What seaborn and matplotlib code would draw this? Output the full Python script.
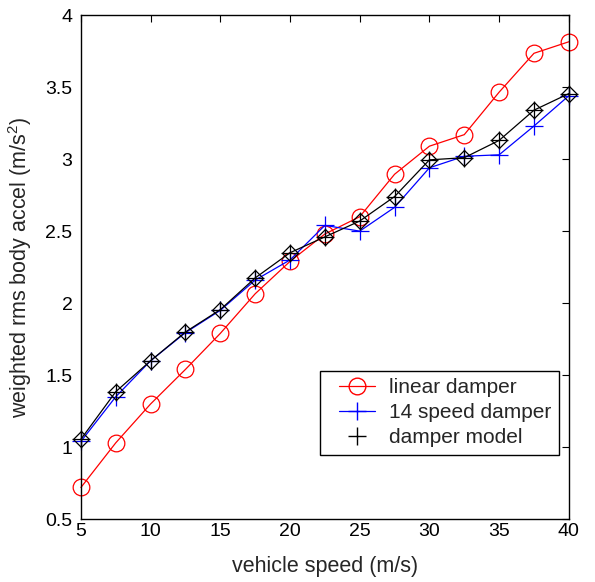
import matplotlib
matplotlib.use("Agg")
import matplotlib.pyplot as plt
import seaborn as sns
import pandas as pd
from matplotlib.lines import Line2D
from matplotlib.legend_handler import HandlerLine2D

speed = [5, 7.5, 10, 12.5, 15, 17.5, 20, 22.5, 25, 27.5, 30, 32.5, 35, 37.5, 40]
linear_damper = [0.72, 1.03, 1.30, 1.54, 1.79, 2.065, 2.29, 2.48, 2.60, 2.895, 3.09, 3.17, 3.465, 3.735, 3.815]
speed14_damper = [1.04, 1.35, 1.60, 1.795, 1.95, 2.16, 2.30, 2.54, 2.50, 2.665, 2.94, 3.02, 3.03, 3.23, 3.44]
damper_model = [1.055, 1.385, 1.60, 1.80, 1.955, 2.175, 2.35, 2.46, 2.57, 2.74, 2.995, 3.01, 3.13, 3.34, 3.455]

xticks = [5, 10, 15, 20, 25, 30, 35, 40]
yticks = [0.5, 1, 1.5, 2, 2.5, 3, 3.5, 4]
ytick_labels = ["0.5", "1", "1.5", "2", "2.5", "3", "3.5", "4"]

sns.set_style("white")
plt.rcParams["font.family"] = ["Liberation Sans", "DejaVu Sans"]
plt.rcParams["mathtext.fontset"] = "custom"
plt.rcParams["mathtext.rm"] = "Liberation Sans"
plt.rcParams["mathtext.it"] = "Liberation Sans"
plt.rcParams["mathtext.default"] = "regular"

df = pd.DataFrame({"speed": speed, "linear": linear_damper,
                   "s14": speed14_damper, "model": damper_model})

fig = plt.figure(figsize=(5.95, 5.82), dpi=100)
ax = fig.add_axes([0.136, 0.108, 0.820, 0.866])

sns.lineplot(data=df, x="speed", y="linear", ax=ax, color="red", lw=0.9,
             marker="o", markersize=12, markerfacecolor="none",
             markeredgecolor="red", markeredgewidth=0.9, clip_on=False)
sns.lineplot(data=df, x="speed", y="s14", ax=ax, color="blue", lw=0.9,
             marker="+", markersize=13, markeredgecolor="blue",
             markeredgewidth=0.9, clip_on=False)
sns.lineplot(data=df, x="speed", y="model", ax=ax, color="black", lw=0.9,
             marker="D", markersize=8.5, markerfacecolor="none",
             markeredgecolor="black", markeredgewidth=0.9, clip_on=False)
sns.lineplot(data=df, x="speed", y="model", ax=ax, color="black", lw=0,
             marker="+", markersize=13, markeredgecolor="black",
             markeredgewidth=0.9, clip_on=False)

ax.set_xlim(5, 40)
ax.set_ylim(0.5, 4)
ax.set_xticks(xticks)
ax.set_xticklabels([str(t) for t in xticks])
ax.set_yticks(yticks)
ax.set_yticklabels(ytick_labels)
ax.tick_params(direction="in", top=True, right=True, length=5, width=0.8,
               labelsize=14, colors="black")
ax.tick_params(axis="x", pad=3)
ax.tick_params(axis="y", pad=6)
for s in ax.spines.values():
    s.set_color("black")
    s.set_linewidth(1.0)
ax.set_xlabel("vehicle speed (m/s)", fontsize=15.5)
ax.set_ylabel("weighted rms body accel (m/s$^2$)", fontsize=15.5)
ax.xaxis.set_label_coords(0.5, -0.073)
ax.yaxis.set_label_coords(-0.096, 0.5)
ax.grid(False)

handles = [
    Line2D([], [], color="red", lw=0.9, marker="o", markersize=12,
           markerfacecolor="none", markeredgecolor="red"),
    Line2D([], [], color="blue", lw=0.9, marker="+", markersize=13,
           markeredgecolor="blue"),
    Line2D([], [], color="black", lw=0, marker="+", markersize=13,
           markeredgecolor="black"),
]
hmap = {h: HandlerLine2D(xpad=0.55) for h in handles}
leg = ax.legend(handles, ["linear damper", "14 speed damper", "damper model"],
                loc="upper left", bbox_to_anchor=(0.4898, 0.2937),
                fontsize=15, frameon=True, fancybox=False, edgecolor="black",
                framealpha=1, handlelength=2.3, handletextpad=0.67,
                labelspacing=0.29, borderpad=0.35, borderaxespad=0,
                handler_map=hmap)
leg.get_frame().set_linewidth(1.0)

fig.savefig("out.png", dpi=100, facecolor="white")
